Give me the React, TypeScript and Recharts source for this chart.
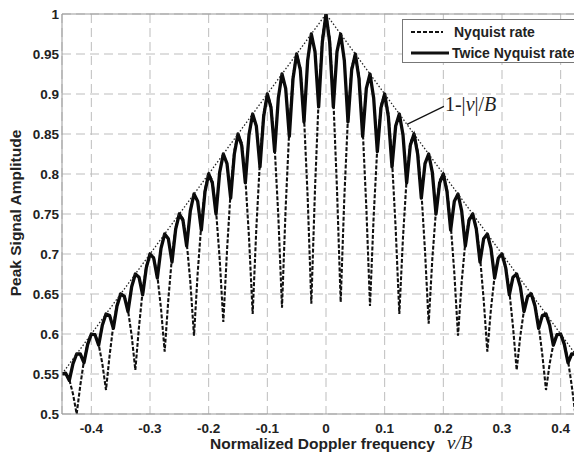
import React from "react";
import {
  LineChart,
  Line,
  XAxis,
  YAxis,
  CartesianGrid,
  Legend,
  ReferenceLine,
  ReferenceDot,
} from "recharts";

const FONT = '"Liberation Sans", Arial, sans-serif';
const SERIF = '"Liberation Serif", "Times New Roman", serif';

// sample grid of the normalized Doppler frequency v/B
const freqStart = -0.45;
const freqStep = 0.00625;

// peak amplitude, sampling at the Nyquist rate (one row = 0.05 of v/B)
const nyquistAmp = [
  0.550, 0.551, 0.543, 0.525, 0.500, 0.536, 0.567, 0.588,
  0.600, 0.600, 0.587, 0.563, 0.530, 0.574, 0.611, 0.637,
  0.650, 0.648, 0.630, 0.598, 0.555, 0.609, 0.654, 0.685,
  0.700, 0.696, 0.673, 0.632, 0.578, 0.643, 0.697, 0.733,
  0.750, 0.744, 0.715, 0.665, 0.598, 0.676, 0.738, 0.781,
  0.800, 0.792, 0.755, 0.694, 0.615, 0.704, 0.779, 0.829,
  0.850, 0.839, 0.795, 0.721, 0.625, 0.732, 0.818, 0.876,
  0.900, 0.886, 0.834, 0.747, 0.633, 0.758, 0.857, 0.923,
  0.950, 0.933, 0.872, 0.771, 0.638, 0.781, 0.894, 0.970,
  1.000, 0.970, 0.894, 0.781, 0.640, 0.771, 0.872, 0.933,
  0.950, 0.923, 0.857, 0.758, 0.635, 0.747, 0.834, 0.886,
  0.900, 0.876, 0.818, 0.732, 0.625, 0.721, 0.795, 0.839,
  0.850, 0.829, 0.779, 0.704, 0.613, 0.694, 0.755, 0.792,
  0.800, 0.781, 0.738, 0.676, 0.598, 0.665, 0.715, 0.744,
  0.750, 0.733, 0.697, 0.643, 0.578, 0.632, 0.673, 0.696,
  0.700, 0.685, 0.654, 0.609, 0.555, 0.598, 0.630, 0.648,
  0.650, 0.637, 0.611, 0.574, 0.530, 0.563, 0.587, 0.600,
  0.600, 0.588, 0.567, 0.536, 0.500, 0.525, 0.543, 0.551,
  0.550,
];

// peak amplitude, sampling at twice the Nyquist rate
const twiceNyquistAmp = [
  0.550, 0.551, 0.542, 0.563, 0.575, 0.575, 0.564, 0.587,
  0.600, 0.599, 0.586, 0.611, 0.625, 0.623, 0.607, 0.635,
  0.650, 0.647, 0.628, 0.659, 0.675, 0.671, 0.649, 0.683,
  0.700, 0.695, 0.670, 0.707, 0.725, 0.719, 0.690, 0.731,
  0.750, 0.742, 0.710, 0.754, 0.775, 0.766, 0.730, 0.778,
  0.800, 0.789, 0.750, 0.802, 0.825, 0.813, 0.770, 0.825,
  0.850, 0.836, 0.789, 0.849, 0.875, 0.860, 0.809, 0.872,
  0.900, 0.883, 0.828, 0.895, 0.925, 0.907, 0.847, 0.919,
  0.950, 0.930, 0.865, 0.942, 0.975, 0.953, 0.884, 0.965,
  1.000, 0.965, 0.884, 0.953, 0.975, 0.942, 0.865, 0.930,
  0.950, 0.919, 0.847, 0.907, 0.925, 0.895, 0.828, 0.883,
  0.900, 0.872, 0.809, 0.860, 0.875, 0.849, 0.789, 0.836,
  0.850, 0.825, 0.770, 0.813, 0.825, 0.802, 0.750, 0.789,
  0.800, 0.778, 0.730, 0.766, 0.775, 0.754, 0.710, 0.742,
  0.750, 0.731, 0.690, 0.719, 0.725, 0.707, 0.670, 0.695,
  0.700, 0.683, 0.649, 0.671, 0.675, 0.659, 0.628, 0.647,
  0.650, 0.635, 0.607, 0.623, 0.625, 0.611, 0.586, 0.599,
  0.600, 0.587, 0.564, 0.575, 0.575, 0.563, 0.542, 0.551,
  0.550,
];

// envelope 1-|v|/B
const envelopeFreq = [-0.45, 0, 0.45];
const envelopeAmp = [0.55, 1, 0.55];

// where the annotation arrow touches the envelope
const annotFreq = 0.138;
const annotAmp = 0.862;

const xTicks = [-0.4, -0.3, -0.2, -0.1, 0, 0.1, 0.2, 0.3, 0.4];
const yTicks = [0.5, 0.55, 0.6, 0.65, 0.7, 0.75, 0.8, 0.85, 0.9, 0.95, 1];
const seriesNames = ["Nyquist rate", "Twice Nyquist rate"];

const data = nyquistAmp.map((v, i) => ({
  freq: Math.round((freqStart + i * freqStep) * 1e5) / 1e5,
  nyquist: v,
  twice: twiceNyquistAmp[i],
}));

const envelopeData = envelopeFreq.map((f, i) => ({ freq: f, envelope: envelopeAmp[i] }));

const tickStyle = { fontSize: 13.5, fontWeight: 700, fill: "#222", fontFamily: FONT };

function LegendBox() {
  return (
    <div
      style={{
        position: "relative",
        width: 200,
        height: 42,
        border: "1px solid #777",
        background: "#fff",
        fontFamily: FONT,
        fontWeight: 700,
        fontSize: 14,
        color: "#222",
      }}
    >
      <svg width={60} height={42} style={{ position: "absolute", left: 0, top: 0 }}>
        <line x1={8} x2={40} y1={12} y2={12} stroke="#111" strokeWidth={2} strokeDasharray="4 2" />
        <line x1={8} x2={46} y1={33} y2={33} stroke="#111" strokeWidth={3.2} />
      </svg>
      <div style={{ position: "absolute", left: 51, top: 4, lineHeight: "16px" }}>{seriesNames[0]}</div>
      <div style={{ position: "absolute", left: 49, top: 25, lineHeight: "16px" }}>{seriesNames[1]}</div>
    </div>
  );
}

function EnvelopeNote(props: any) {
  const { cx, cy } = props;
  if (cx == null || cy == null) return null;
  return (
    <g>
      <line x1={cx} y1={cy} x2={cx + 37} y2={cy - 18} stroke="#111" strokeWidth={1.2} />
      <text x={cx + 38} y={cy - 13} fontFamily={SERIF} fontSize={20} fill="#222">
        1-|<tspan fontStyle="italic">v</tspan>|/<tspan fontStyle="italic">B</tspan>
      </text>
    </g>
  );
}

function XLabel(props: any) {
  const { x, y } = props.viewBox;
  return (
    <text x={x + 148} y={y + 35} fontFamily={FONT} fontWeight={700} fontSize={15.5} fill="#222">
      Normalized Doppler frequency
      <tspan x={x + 385} fontFamily={SERIF} fontWeight={400} fontStyle="italic" fontSize={19}>
        v/B
      </tspan>
    </text>
  );
}

function YLabel(props: any) {
  const { x, y } = props.viewBox;
  const lx = x + 13;
  const ly = y + 199;
  return (
    <text
      x={lx}
      y={ly}
      transform={`rotate(-90, ${lx}, ${ly})`}
      textAnchor="middle"
      fontFamily={FONT}
      fontWeight={700}
      fontSize={15.5}
      fill="#222"
    >
      Peak Signal Amplitude
    </text>
  );
}

export default function App() {
  return (
    <div style={{ width: 574, height: 448, overflow: "hidden" }}>
      <LineChart width={600} height={448} data={data} margin={{ top: 6, right: 18, left: 0, bottom: 12 }}>
        <CartesianGrid stroke="#bdbdbd" strokeDasharray="9 5" />
        <XAxis
          dataKey="freq"
          type="number"
          domain={[-0.45, 0.45]}
          ticks={xTicks}
          interval={0}
          allowDataOverflow
          tickLine={false}
          tickSize={0}
          tickMargin={9}
          height={30}
          axisLine={{ stroke: "#999" }}
          tick={tickStyle}
          label={<XLabel />}
        />
        <YAxis
          type="number"
          domain={[0.5, 1]}
          ticks={yTicks}
          interval={0}
          allowDataOverflow
          tickLine={false}
          tickSize={0}
          tickMargin={3}
          width={54}
          axisLine={{ stroke: "#999" }}
          tick={tickStyle}
          label={<YLabel />}
        />
        <ReferenceLine y={1} stroke="#999" strokeWidth={1} />
        <Line
          dataKey="nyquist"
          name={seriesNames[0]}
          type="linear"
          stroke="#111"
          strokeWidth={2.1}
          strokeDasharray="4 1.8"
          dot={false}
          isAnimationActive={false}
        />
        <Line
          dataKey="twice"
          name={seriesNames[1]}
          type="linear"
          stroke="#0a0a0a"
          strokeWidth={3.3}
          strokeLinejoin="round"
          dot={false}
          isAnimationActive={false}
        />
        <Line
          data={envelopeData}
          dataKey="envelope"
          type="linear"
          stroke="#222"
          strokeWidth={1.3}
          strokeDasharray="1.5 2"
          dot={false}
          legendType="none"
          isAnimationActive={false}
        />
        <ReferenceDot x={annotFreq} y={annotAmp} r={0} shape={(p: any) => <EnvelopeNote {...p} />} />
        <Legend
          layout="horizontal"
          verticalAlign="middle"
          align="center"
          content={() => <LegendBox />}
          wrapperStyle={{ position: "absolute", left: 394, top: 11, width: 202, height: 44 }}
        />
      </LineChart>
    </div>
  );
}
